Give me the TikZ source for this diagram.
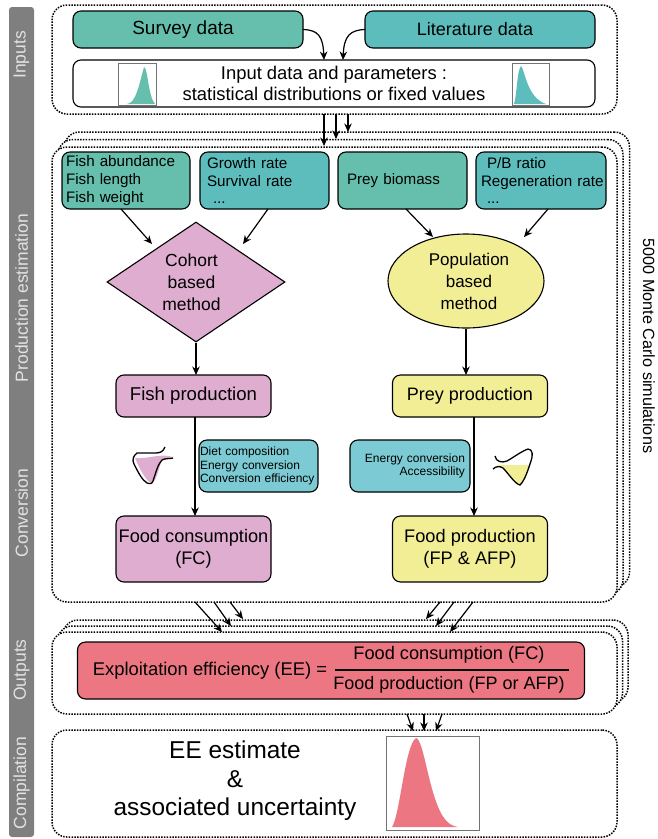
\documentclass[tikz,border=0pt]{standalone}
\usepackage{fontspec}
\setmainfont{Liberation Sans}
\usetikzlibrary{arrows.meta,shapes.geometric}
\definecolor{tealA}{HTML}{66BFAC}
\definecolor{tealB}{HTML}{5DBDBD}
\definecolor{aqua}{HTML}{7CCBD4}
\definecolor{pinkA}{HTML}{DFADD0}
\definecolor{yellowA}{HTML}{F1EE95}
\definecolor{redA}{HTML}{EC7782}
\definecolor{stripA}{HTML}{7F7F7F}
\definecolor{stripT}{HTML}{E2E2E2}
\tikzset{
  box/.style={draw, line width=1.1pt, rounded corners=8pt, inner sep=0pt, outer sep=0pt, align=center},
  frame/.style={draw, fill=white, line width=1.5pt, rounded corners=15pt, dash pattern=on 1.5pt off 1.3pt, inner sep=0pt, outer sep=0pt},
  hist/.style={draw=black!55, fill=white, line width=0.8pt, inner sep=0pt, outer sep=0pt},
  side/.style={rotate=90, text=stripT, font=\fontsize{17.5}{20}\selectfont, inner sep=0pt},
  flow/.style={-{Stealth[length=8.5pt,width=7.5pt]}, line width=1.2pt},
  small/.style={font=\fontsize{15.2}{17.8}\selectfont},
  tiny/.style={font=\fontsize{12}{13.6}\selectfont},
  big/.style={font=\fontsize{18.2}{22}\selectfont},
  data/.style={box, small, align=left, text width=#1, inner xsep=4pt, minimum height=57pt}
}
\begin{document}
\begin{tikzpicture}[x=1pt,y=-1pt]
\useasboundingbox (0,0) rectangle (657,839);
% side strip
\node[fill=stripA, rounded corners=3pt, minimum width=25pt, minimum height=830pt, inner sep=0pt] (strip) at (21.5,422){};
\node[side] (sinp) at (21.5,55){Inputs};
\node[side] (spro) at (21.5,298){Production estimation};
\node[side] (scon) at (21.5,513){Conversion};
\node[side] (sout) at (21.5,670){Outputs};
\node[side] (scmp) at (21.5,783){Compilation};
\node[rotate=-90, font=\fontsize{16.2}{19}\selectfont, inner sep=0pt] (sims) at (649,346){5000 Monte Carlo simulations};
% inputs
\node[frame, minimum width=565pt, minimum height=109pt] (finp) at (334.5,59.5){};
\node[box, fill=tealA, minimum width=230pt, minimum height=37pt, font=\fontsize{19}{22}\selectfont] (survey) at (188,29.5){\hspace*{-10pt}Survey data};
\node[box, fill=tealB, minimum width=230pt, minimum height=37pt, font=\fontsize{18}{22}\selectfont] (lit) at (480,29.5){\hspace*{-10pt}Literature data};
\node[box, fill=white, minimum width=522pt, minimum height=47pt, font=\fontsize{18.4}{21}\selectfont] (inp) at (334,83.5){Input data and parameters :\\statistical distributions or fixed values};
\node[hist, minimum width=38pt, minimum height=42pt] (hleft) at (137,84){};
\fill[tealA] (127,104) .. controls (136,103) and (139,85) .. (144,67) .. controls (148,68) and (148,96) .. (155,104) -- cycle;
\node[hist, minimum width=37pt, minimum height=42pt] (hright) at (530.5,84){};
\fill[tealB] (514,104) .. controls (517,95) and (517,70) .. (521,66) .. controls (525,70) and (527,98) .. (546,104) -- cycle;
\coordinate (a0) at (324,60);
\coordinate (a1) at (343,60);
\draw[flow] (survey.east) .. controls (318,30) and (323,36) .. (a0);
\draw[flow] (lit.west) .. controls (350,30) and (344,36) .. (a1);
% production and conversion
\node[frame, minimum width=565pt, minimum height=455pt] (pback) at (347,359.5){};
\node[frame, minimum width=565pt, minimum height=455pt] (pmid) at (340.5,367){};
\node[frame, minimum width=565pt, minimum height=455pt] (pfront) at (334.5,374.5){};
\coordinate (b0) at (324,114);
\coordinate (b1) at (336,114);
\coordinate (b2) at (348,114);
\coordinate (c0) at (324,146);
\coordinate (c1) at (336,139);
\coordinate (c2) at (348,132);
\draw[flow] (b0) -- (c0);
\draw[flow] (b1) -- (c1);
\draw[flow] (b2) -- (c2);
\node[data=120pt, fill=tealA] (fab) at (126,180.5){Fish abundance\\Fish length\\Fish weight};
\node[data=121pt, fill=tealB] (grw) at (264.5,180.5){\hspace*{3pt}Growth rate\\\hspace*{3pt}Survival rate\\\hspace*{9pt}...};
\node[data=121pt, fill=tealA] (pbm) at (402.5,180.5){\hspace*{5pt}Prey biomass};
\node[data=126pt, inner xsep=2pt, fill=tealB] (pbr) at (541,180.5){\hspace*{9pt}P/B ratio\\\hspace*{3pt}Regeneration rate\\\hspace*{9pt}...};
\node[diamond, draw, fill=pinkA, line width=1.1pt, minimum width=178pt, minimum height=120pt, inner sep=0pt, align=center, font=\fontsize{17.5}{22}\selectfont] (coh) at (196,282){\hspace*{-9pt}Cohort\\\hspace*{-9pt}based\\\hspace*{-9pt}method};
\node[ellipse, draw, fill=yellowA, line width=1.1pt, minimum width=156pt, minimum height=94pt, inner sep=0pt, align=center, font=\fontsize{17}{22}\selectfont] (pop) at (466,281){\hspace*{6pt}Population\\\hspace*{6pt}based\\\hspace*{6pt}method};
\coordinate (d0) at (121,209);
\coordinate (d1) at (152,244);
\coordinate (d2) at (268,209);
\coordinate (d3) at (243,244);
\coordinate (d4) at (406,209);
\coordinate (d5) at (433,237);
\coordinate (d6) at (548,209);
\coordinate (d7) at (524,237);
\draw[flow] (d0) -- (d1);
\draw[flow] (d2) -- (d3);
\draw[flow] (d4) -- (d5);
\draw[flow] (d6) -- (d7);
\node[box, fill=pinkA, minimum width=155pt, minimum height=42pt, font=\fontsize{18.6}{22}\selectfont] (fpr) at (193.5,396){Fish production};
\node[box, fill=yellowA, minimum width=155pt, minimum height=42pt, font=\fontsize{18}{22}\selectfont] (ppr) at (470,396){Prey production};
\draw[flow] (coh.south) -- (coh.south |- fpr.north);
\draw[flow] (pop.south) -- (pop.south |- ppr.north);
\node[box, fill=pinkA, minimum width=155pt, minimum height=66pt, big] (fcn) at (193.5,549){Food consumption\\(FC)};
\node[box, fill=yellowA, minimum width=155pt, minimum height=66pt, big] (fpn) at (470,549){Food production\\(FP \& AFP)};
\coordinate (e0) at (195,417);
\coordinate (e1) at (195,516);
\coordinate (e2) at (474,417);
\coordinate (e3) at (474,516);
\draw[flow] (e0) -- (e1);
\draw[flow] (e2) -- (e3);
\node[box, fill=aqua, tiny, align=left, minimum width=119pt, minimum height=52pt, text width=117pt] (dcv) at (258.5,466){Diet composition\\Energy conversion\\Conversion efficiency};
\node[box, fill=aqua, tiny, align=right, minimum width=120pt, minimum height=52pt, text width=110pt] (ecv) at (410,466){Energy conversion\\Accessibility};
% flasks
\fill[pinkA] (135,458) .. controls (150,459) and (160,453) .. (173,457) -- (162,460) .. controls (158,470) and (157,480) .. (152,483) .. controls (148,484) and (140,470) .. cycle;
\draw[line width=1.3pt] (165,447) .. controls (163,452) and (160,453) .. (155,453) .. controls (148,453) and (142,453) .. (137,453) .. controls (133,456) and (132,460) .. (134,464) .. controls (138,472) and (142,480) .. (147,483) .. controls (150,484) and (152,484) .. (153,481) .. controls (156,472) and (158,464) .. (162,460) .. controls (165,458) and (170,459) .. (173,458);
\fill[yellowA] (496,465) -- (530,465) .. controls (527,473) and (524,480) .. (520,485) .. controls (514,482) and (508,473) .. (503,467) -- cycle;
\draw[line width=1.3pt] (495,456) .. controls (496,462) and (502,463) .. (507,461) .. controls (514,457) and (522,451) .. (528,449) .. controls (533,449) and (533,456) .. (531,461) .. controls (528,470) and (525,480) .. (520,485) .. controls (515,484) and (508,473) .. (503,468) .. controls (500,466) and (496,466) .. (493,469);
% outputs
\node[frame, minimum width=565pt, minimum height=82pt] (oback) at (345.5,661){};
\node[frame, minimum width=565pt, minimum height=82pt] (omid) at (340,667){};
\node[frame, minimum width=565pt, minimum height=82pt] (ofront) at (334.5,673){};
\coordinate (f0) at (195,602);
\coordinate (f1) at (222,632);
\coordinate (f2) at (214,602);
\coordinate (f3) at (231,626);
\coordinate (f4) at (230,602);
\coordinate (f5) at (243,619);
\coordinate (f6) at (473,602);
\coordinate (f7) at (450,632);
\coordinate (f8) at (454,602);
\coordinate (f9) at (436,626);
\coordinate (f10) at (440,602);
\coordinate (f11) at (426,619);
\draw[flow] (f0) -- (f1);
\draw[flow] (f2) -- (f3);
\draw[flow] (f4) -- (f5);
\draw[flow] (f6) -- (f7);
\draw[flow] (f8) -- (f9);
\draw[flow] (f10) -- (f11);
\node[box, fill=redA, minimum width=507pt, minimum height=57pt] (eef) at (331,670.5){};
\node[font=\fontsize{18.4}{22}\selectfont, inner sep=0pt] (eel) at (210,671){Exploitation efficiency (EE) =};
\node[font=\fontsize{18.2}{22}\selectfont, inner sep=0pt] (eet) at (449,655){Food consumption (FC)};
\node[font=\fontsize{18}{22}\selectfont, inner sep=0pt] (eeb) at (449,685){Food production (FP or AFP)};
\coordinate (g0) at (335,670);
\coordinate (g1) at (569,670);
\draw[line width=1.2pt] (g0) -- (g1);
% compilation
\node[frame, minimum width=565pt, minimum height=107pt] (fcmp) at (334.5,783.5){};
\node[font=\fontsize{24.4}{28.5}\selectfont, inner sep=0pt, align=center] (eee) at (235,781){EE estimate\\\&\\associated uncertainty};
\node[hist, minimum width=93pt, minimum height=94pt] (hest) at (432.5,783){};
\fill[redA] (392,827) .. controls (400,815) and (405,745) .. (416,738) .. controls (424,740) and (428,790) .. (442,815) .. controls (448,824) and (452,826) .. (458,827) -- cycle;
\coordinate (h0) at (407,714);
\coordinate (h1) at (413,731);
\coordinate (h2) at (424,714);
\coordinate (h3) at (424,731);
\coordinate (h4) at (442,714);
\coordinate (h5) at (436,731);
\draw[flow] (h0) -- (h1);
\draw[flow] (h2) -- (h3);
\draw[flow] (h4) -- (h5);
\end{tikzpicture}
\end{document}
